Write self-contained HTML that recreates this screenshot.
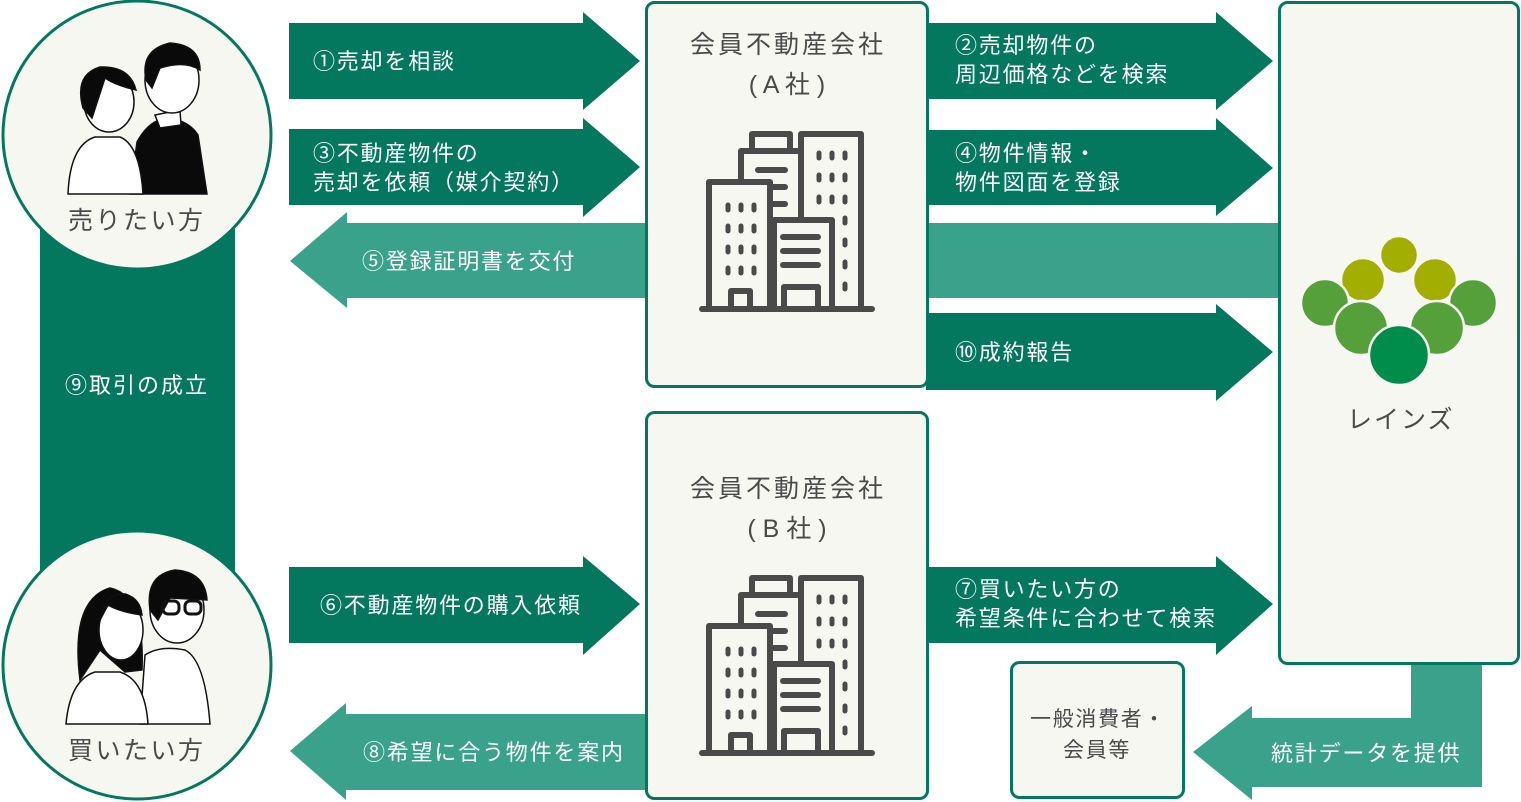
<!DOCTYPE html>
<html><head><meta charset="utf-8"><style>
html,body{margin:0;padding:0;background:#fff;}
svg{display:block;}
text{font-family:"Liberation Sans","Noto Sans CJK JP",sans-serif;}
</style></head><body>
<svg width="1521" height="802" viewBox="0 0 1521 802" xmlns="http://www.w3.org/2000/svg">
<defs>
<g id="bld" fill="none" stroke="#4a4a4a" stroke-width="6" stroke-linecap="round" stroke-linejoin="round">
  <line x1="702" y1="309" x2="872" y2="309"/>
  <rect x="752" y="134" width="38" height="17"/>
  <polyline points="741,309 741,151 801,151"/>
  <rect x="801" y="134" width="60" height="175"/>
  <rect x="709" y="182" width="61" height="127" fill="#f7f7f2"/>
  <rect x="774" y="220" width="58" height="89" fill="#f7f7f2"/>
  <line x1="758" y1="170" x2="785" y2="170"/><line x1="772" y1="187" x2="785" y2="187"/><line x1="772" y1="204" x2="785" y2="204"/>
  <line x1="783" y1="237" x2="818" y2="237"/><line x1="783" y1="251" x2="818" y2="251"/><line x1="783" y1="265" x2="818" y2="265"/>
  <rect x="784" y="287" width="34" height="22"/><rect x="731" y="291" width="19" height="18"/>
  <g stroke-width="5">
   <line x1="728" y1="205" x2="728" y2="210"/><line x1="741" y1="205" x2="741" y2="210"/><line x1="754" y1="205" x2="754" y2="210"/>
   <line x1="728" y1="226" x2="728" y2="231"/><line x1="741" y1="226" x2="741" y2="231"/><line x1="754" y1="226" x2="754" y2="231"/>
   <line x1="728" y1="247" x2="728" y2="252"/><line x1="741" y1="247" x2="741" y2="252"/><line x1="754" y1="247" x2="754" y2="252"/>
   <line x1="728" y1="268" x2="728" y2="273"/><line x1="741" y1="268" x2="741" y2="273"/><line x1="754" y1="268" x2="754" y2="273"/>
   <line x1="819" y1="153" x2="819" y2="158"/><line x1="832" y1="153" x2="832" y2="158"/><line x1="845" y1="153" x2="845" y2="158"/>
   <line x1="819" y1="175" x2="819" y2="180"/><line x1="832" y1="175" x2="832" y2="180"/><line x1="845" y1="175" x2="845" y2="180"/>
   <line x1="819" y1="197" x2="819" y2="202"/><line x1="832" y1="197" x2="832" y2="202"/><line x1="845" y1="197" x2="845" y2="202"/>
   <line x1="845" y1="218" x2="845" y2="223"/><line x1="845" y1="240" x2="845" y2="245"/><line x1="845" y1="262" x2="845" y2="267"/><line x1="845" y1="284" x2="845" y2="289"/>
  </g>
</g>
</defs>

<rect x="40" y="220" width="195" height="360" fill="#03785f"/>
<text x="65" y="393" fill="#fff" font-size="22" letter-spacing="2">⑨取引の成立</text>

<polygon points="1280,223 347,223 347,212 290,261 347,308 347,298 1280,298" fill="#3aa18b"/>
<polygon points="646,714 346,714 346,703 290,751 346,800 346,790 646,790" fill="#3aa18b"/>
<polygon points="1411,660 1482,660 1482,787 1252,787 1252,800 1193,752 1252,706 1252,718 1411,718" fill="#3aa18b"/>

<g fill="#03785f">
<polygon points="289,23 583,23 583,12 640,61 583,110 583,99 289,99"/>
<polygon points="289,129 583,129 583,118 640,167 583,217 583,205 289,205"/>
<polygon points="289,567 583,567 583,556 640,604 583,655 583,643 289,643"/>
<polygon points="926,23 1216,23 1216,12 1273,61 1216,110 1216,99 926,99"/>
<polygon points="926,130 1216,130 1216,118 1273,168 1216,216 1216,205 926,205"/>
<polygon points="926,313 1216,313 1216,304 1273,352 1216,401 1216,390 926,390"/>
<polygon points="926,567 1216,567 1216,556 1273,604 1216,655 1216,643 926,643"/>
</g>

<g fill="#fff" font-size="22" letter-spacing="1.8">
<text x="313" y="69">①売却を相談</text>
<text x="313" y="161">③不動産物件の</text>
<text x="313" y="190">売却を依頼（媒介契約）</text>
<text x="362" y="269">⑤登録証明書を交付</text>
<text x="320" y="613">⑥不動産物件の購入依頼</text>
<text x="363" y="760">⑧希望に合う物件を案内</text>
<text x="955" y="53">②売却物件の</text>
<text x="955" y="82">周辺価格などを検索</text>
<text x="955" y="161">④物件情報・</text>
<text x="955" y="190">物件図面を登録</text>
<text x="955" y="360">⑩成約報告</text>
<text x="955" y="597">⑦買いたい方の</text>
<text x="955" y="626">希望条件に合わせて検索</text>
<text x="1271" y="761">統計データを提供</text>
</g>

<g fill="#f7f7f2" stroke="#03785f" stroke-width="3">
<rect x="646.5" y="2.5" width="281" height="384" rx="8"/>
<rect x="646.5" y="412.5" width="281" height="386" rx="8"/>
<rect x="1279.5" y="2.5" width="239" height="661" rx="8"/>
<rect x="1011.5" y="662.5" width="172" height="135" rx="8"/>
</g>
<g fill="#4a4a4a" font-size="25" letter-spacing="3">
<text x="690" y="53">会員不動産会社</text>
<text x="690" y="497">会員不動産会社</text>
</g>
<g fill="#4a4a4a" font-size="25" text-anchor="middle">
<text x="787" y="93">( A 社 )</text>
<text x="787" y="537">( B 社 )</text>
</g>
<text x="1347" y="428" fill="#4a4a4a" font-size="25" letter-spacing="2">レインズ</text>
<g fill="#4a4a4a" font-size="21" letter-spacing="1.7">
<text x="1030" y="726">一般消費者・</text>
<text x="1063" y="757">会員等</text>
</g>
<use href="#bld"/>
<use href="#bld" transform="translate(0,444)"/>

<g stroke="#f7f7f2" stroke-width="2.5">
<circle cx="1399" cy="255" r="19" fill="#a2ae00"/>
<circle cx="1363" cy="280" r="22" fill="#a2ae00"/>
<circle cx="1435" cy="280" r="22" fill="#a2ae00"/>
<circle cx="1325" cy="303" r="24" fill="#56a03b"/>
<circle cx="1473" cy="303" r="24" fill="#56a03b"/>
<circle cx="1361" cy="328" r="27" fill="#56a03b"/>
<circle cx="1437" cy="328" r="27" fill="#56a03b"/>
<circle cx="1399" cy="355" r="30" fill="#008c4a"/>
</g>

<circle cx="137" cy="135" r="134" fill="#f7f7f2" stroke="#03785f" stroke-width="3"/>
<circle cx="137" cy="665" r="134" fill="#f7f7f2" stroke="#03785f" stroke-width="3"/>
<g fill="#4a4a4a" font-size="25" letter-spacing="2.5">
<text x="68" y="229">売りたい方</text>
<text x="68" y="759">買いたい方</text>
</g>

<g stroke="#111" stroke-width="1.5">
<path d="M130,194 L137,142 Q150,118 170,118 Q190,122 198,135 L207,194 Z" fill="#0a0a0a"/>
<path d="M155,115 L180,110 L181,125 L160,128 Z" fill="#fff"/>
<ellipse cx="172" cy="80" rx="27" ry="33" fill="#fff"/>
<path d="M146,80 Q140,50 170,43 Q200,45 200,70 Q185,60 160,68 L152,88 Z" fill="#0a0a0a"/>
<path d="M68,194 Q70,145 95,137 L120,137 Q140,145 143,194 Z" fill="#fff"/>
<ellipse cx="109" cy="102" rx="25" ry="30" fill="#fff"/>
<path d="M83,108 Q74,75 100,67 Q130,66 136,90 Q115,85 105,78 L92,118 Z" fill="#0a0a0a"/>
</g>
<g stroke="#111" stroke-width="1.5">
<path d="M140,724 L145,655 Q160,645 185,650 Q205,660 210,724 Z" fill="#fff"/>
<ellipse cx="177" cy="610" rx="27" ry="33" fill="#fff"/>
<path d="M150,610 Q145,575 175,570 Q205,572 207,600 L170,598 L158,620 Z" fill="#0a0a0a"/>
<rect x="163" y="601" width="16" height="13" rx="5" fill="none" stroke-width="3"/><rect x="185" y="601" width="16" height="13" rx="5" fill="none" stroke-width="3"/>
<path d="M66,724 Q70,680 95,672 L120,672 Q145,680 148,724 Z" fill="#fff"/>
<path d="M80,680 Q70,600 110,588 Q145,595 142,670 L125,672 L100,650 Z" fill="#0a0a0a"/>
<ellipse cx="121" cy="630" rx="22" ry="30" fill="#fff"/>
<path d="M100,620 Q105,592 125,594 Q140,598 142,615 Q120,612 108,605 Z" fill="#0a0a0a"/>
</g>
</svg>
</body></html>
